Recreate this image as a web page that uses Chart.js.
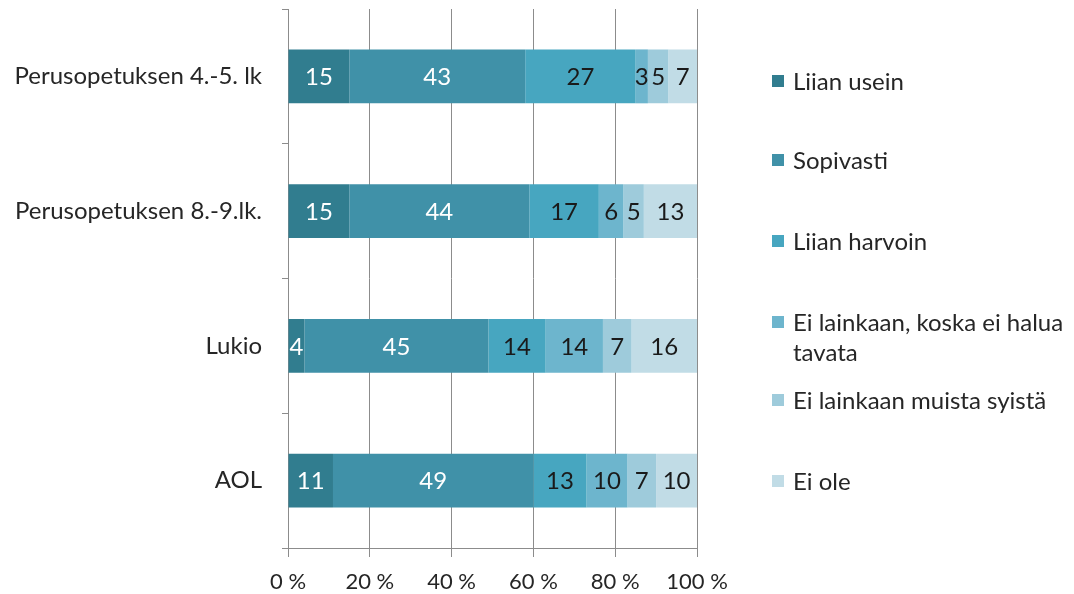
<!DOCTYPE html>
<html>
<head>
<meta charset="utf-8">
<script src="https://cdn.jsdelivr.net/npm/chart.js@4"></script>
<style>
  body { margin: 0; background: #fff; }
  #wrap { position: relative; width: 1074px; height: 594px; }
  #legend { position: absolute; left: 772px; top: 0; font-family: Lato, "Open Sans", sans-serif; font-size: 24px; color: #262626; }
  .item { position: absolute; left: 0; width: 310px; line-height: 30px; }
  .sw { position: absolute; left: 0; top: 9px; width: 12px; height: 12px; }
  .txt { margin-left: 21px; display: block; white-space: nowrap; }
</style>
</head>
<body>
<div id="wrap">
  <canvas id="chart" width="1074" height="594"></canvas>
  <div id="legend"></div>
</div>
<script>
// kouluasteet ja vastausvaihtoehdot
const levels = ["Perusopetuksen 4.-5. lk", "Perusopetuksen 8.-9.lk.", "Lukio", "AOL"];
const answers = ["Liian usein", "Sopivasti", "Liian harvoin", "Ei lainkaan, koska ei halua tavata", "Ei lainkaan muista syistä", "Ei ole"];
const colors = ["#317d8f", "#4091a8", "#47a6c0", "#6db5cd", "#9ecbdb", "#c1dce6"];
const labelColors = ["#ffffff", "#ffffff", "#1a1a1a", "#1a1a1a", "#1a1a1a", "#1a1a1a"];

// prosenttiosuudet, yksi lista per vastausvaihtoehto
const liianUsein   = [15, 15, 4, 11];
const sopivasti    = [43, 44, 45, 49];
const liianHarvoin = [27, 17, 14, 13];
const eiHalua      = [3, 6, 14, 10];
const muistaSyista = [5, 5, 7, 7];
const eiOle        = [7, 13, 16, 10];
const series = [liianUsein, sopivasti, liianHarvoin, eiHalua, muistaSyista, eiOle];

const xTicks = [0, 20, 40, 60, 80, 100];
const legendY = [81, 160, 241, 322, 400, 481];

const FONT = 'Lato, "Open Sans", sans-serif';

// arvot palkkien keskelle
const barValues = {
  id: 'barValues',
  afterDatasetsDraw(chart) {
    const ctx = chart.ctx;
    ctx.save();
    ctx.font = '24px ' + FONT;
    ctx.textAlign = 'center';
    ctx.textBaseline = 'middle';
    chart.data.datasets.forEach((ds, i) => {
      chart.getDatasetMeta(i).data.forEach((bar, j) => {
        const c = bar.getCenterPoint();
        ctx.fillStyle = labelColors[i];
        ctx.fillText(ds.data[j], c.x, c.y + 1);
      });
    });
    ctx.restore();
  }
};

new Chart(document.getElementById('chart').getContext('2d'), {
  type: 'bar',
  data: {
    labels: levels,
    datasets: series.map((d, i) => ({
      label: answers[i],
      data: d,
      backgroundColor: colors[i],
      barPercentage: 0.4,
      categoryPercentage: 1
    }))
  },
  options: {
    indexAxis: 'y',
    responsive: false,
    animation: false,
    layout: { padding: { top: 9, right: 377, left: 0, bottom: 0 } },
    plugins: {
      legend: { display: false },
      tooltip: { enabled: false }
    },
    scales: {
      x: {
        stacked: true,
        min: 0,
        max: 100,
        afterBuildTicks: s => { s.ticks = xTicks.map(v => ({ value: v })); },
        afterFit: s => { s.height = 46; s.paddingLeft = 0; s.paddingRight = 0; },
        grid: { color: '#8c8c8c', tickLength: 9, lineWidth: 1 },
        border: { color: '#8c8c8c' },
        ticks: {
          padding: 12,
          color: '#262626',
          font: { family: FONT, size: 22 },
          callback: v => v + ' %'
        }
      },
      y: {
        stacked: true,
        afterFit: s => { s.width = 288; s.paddingTop = 0; s.paddingBottom = 0; },
        grid: { drawOnChartArea: false, offset: true, color: '#8c8c8c', tickLength: 6 },
        border: { color: '#8c8c8c' },
        ticks: {
          padding: 20,
          color: '#262626',
          font: { family: FONT, size: 24 }
        }
      }
    }
  },
  plugins: [barValues]
});

// selite oikealle
const legend = document.getElementById('legend');
answers.forEach((a, i) => {
  const item = document.createElement('div');
  item.className = 'item';
  item.style.top = (legendY[i] - 15) + 'px';
  const sw = document.createElement('span');
  sw.className = 'sw';
  sw.style.background = colors[i];
  const t = document.createElement('span');
  t.className = 'txt';
  t.textContent = a;
  if (i === 3) { t.innerHTML = 'Ei lainkaan, koska ei halua<br>tavata'; }
  item.appendChild(sw);
  item.appendChild(t);
  legend.appendChild(item);
});
</script>
</body>
</html>
